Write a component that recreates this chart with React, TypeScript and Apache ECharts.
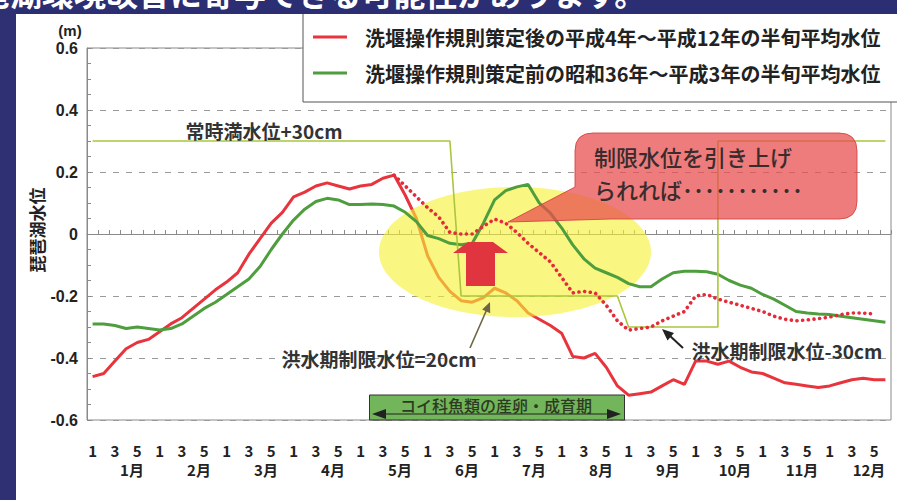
import { useEffect, useRef } from "react";
import * as echarts from "echarts";

const FONT = "Noto Sans CJK JP, Noto Sans, sans-serif";
const NUM_FONT = "Liberation Sans, Noto Sans, sans-serif";

// 半旬 (5-day periods): 6 per month, 72 per year
const months = ["1月", "2月", "3月", "4月", "5月", "6月", "7月", "8月", "9月", "10月", "11月", "12月"];
const halfPeriods = ["1", "2", "3", "4", "5", "6"];
const halfPeriodTickLabels = ["1", "", "3", "", "5", ""];
const categories = months.flatMap((m) => halfPeriods.map((h) => `${m}${h}`));

const yMin = -0.6;
const yMax = 0.6;
const yStep = 0.2;

const SERIES_AFTER = "洗堰操作規則策定後の平成4年～平成12年の半旬平均水位";
const SERIES_BEFORE = "洗堰操作規則策定前の昭和36年～平成3年の半旬平均水位";
const SERIES_RAISED = "制限水位引き上げ時";
const SERIES_LIMIT = "制限水位";

// 平成4年～平成12年 (after the rule)
const afterRuleLevels = [
  -0.46, -0.45, -0.41, -0.37, -0.35, -0.34,
  -0.315, -0.29, -0.27, -0.24, -0.21, -0.18,
  -0.155, -0.125, -0.065, -0.015, 0.035, 0.07,
  0.12, 0.135, 0.155, 0.165, 0.155, 0.145,
  0.155, 0.16, 0.18, 0.19, 0.125, 0.05,
  -0.07, -0.14, -0.185, -0.215, -0.22, -0.205,
  -0.175, -0.19, -0.215, -0.255, -0.275, -0.295,
  -0.32, -0.395, -0.4, -0.385, -0.43, -0.49,
  -0.52, -0.515, -0.51, -0.49, -0.47, -0.485,
  -0.41, -0.41, -0.42, -0.41, -0.43, -0.445,
  -0.45, -0.465, -0.48, -0.485, -0.49, -0.495,
  -0.49, -0.48, -0.47, -0.465, -0.47, -0.47,
];

// 昭和36年～平成3年 (before the rule)
const beforeRuleLevels = [
  -0.29, -0.29, -0.295, -0.305, -0.3, -0.305,
  -0.31, -0.305, -0.29, -0.265, -0.24, -0.22,
  -0.195, -0.17, -0.145, -0.105, -0.05, 0.0,
  0.045, 0.08, 0.105, 0.115, 0.11, 0.095,
  0.095, 0.097, 0.095, 0.09, 0.07, 0.04,
  -0.005, -0.015, -0.03, -0.035, -0.03, 0.035,
  0.11, 0.14, 0.152, 0.16, 0.1, 0.067,
  0.02, -0.035, -0.08, -0.11, -0.125, -0.14,
  -0.16, -0.17, -0.17, -0.145, -0.125, -0.12,
  -0.12, -0.122, -0.13, -0.15, -0.165, -0.175,
  -0.195, -0.21, -0.23, -0.25, -0.255, -0.258,
  -0.26, -0.265, -0.27, -0.275, -0.28, -0.285,
];

// expected level if the flood-season limit were raised
const raisedLimitLevels = [
  null, null, null, null, null, null,
  null, null, null, null, null, null,
  null, null, null, null, null, null,
  null, null, null, null, null, null,
  null, null, null, 0.19, 0.155, 0.12,
  0.085, 0.055, 0.005, 0.0, 0.0, 0.025,
  0.048, 0.035, 0.005, -0.03, -0.06, -0.09,
  -0.14, -0.19, -0.185, -0.19, -0.23, -0.28,
  -0.31, -0.305, -0.3, -0.28, -0.265, -0.25,
  -0.2, -0.195, -0.21, -0.22, -0.23, -0.24,
  -0.25, -0.265, -0.275, -0.28, -0.277, -0.273,
  -0.268, -0.26, -0.255, -0.255, -0.258, null,
];

// 常時満水位 +30cm / 洪水期制限水位 -20cm, -30cm  [half-period index, level]
const limitLevelSteps = [
  [0, 0.3], [32, 0.3], [33, -0.2], [47, -0.2],
  [48, -0.3], [56, -0.3], [56, 0.3], [71, 0.3],
];

const BUBBLE_PATH =
  "M18 0 H264 Q282 0 282 18 V68 Q282 86 264 86 H36 L-67 89 L0 54 V18 Q0 0 18 0 Z";

export default function App() {
  const ref = useRef<HTMLDivElement>(null);

  useEffect(() => {
    if (!ref.current) return;
    echarts.graphic.registerShape("calloutBubble", echarts.graphic.extendPath(BUBBLE_PATH, {}));
    const chart = echarts.init(ref.current, null, { renderer: "svg" });

    const labelText = { fontFamily: FONT, fontWeight: "bold" as const, color: "#222" };
    const numText = { fontFamily: NUM_FONT, fontWeight: "bold" as const, color: "#222" };
    const axisGray = "#8a8a8a";

    chart.setOption({
      animation: false,
      textStyle: { fontFamily: FONT },
      grid: {
        left: 87, right: 6, top: 48, bottom: 80,
        show: true, borderColor: axisGray, borderWidth: 1, backgroundColor: "transparent",
      },
      legend: {
        data: [SERIES_AFTER, SERIES_BEFORE],
        orient: "vertical",
        left: 303,
        top: 13,
        padding: [13, 60, 18, 10],
        itemGap: 14,
        icon: "rect",
        itemWidth: 34,
        itemHeight: 3,
        backgroundColor: "#fff",
        borderColor: "#555",
        borderWidth: 1,
        selectedMode: false,
        textStyle: { ...labelText, fontSize: 20, lineHeight: 22, padding: [0, 0, 0, 13] },
      },
      xAxis: [
        {
          type: "category",
          data: categories,
          boundaryGap: true,
          axisLine: { lineStyle: { color: axisGray } },
          axisTick: { show: true, inside: true, length: 4, interval: 0, lineStyle: { color: axisGray } },
          axisLabel: {
            ...labelText, fontSize: 15, lineHeight: 16, interval: 0, margin: 22,
            formatter: (_v: string, i: number) => halfPeriodTickLabels[i % 6],
          },
          splitLine: { show: false },
        },
        {
          type: "category",
          data: months,
          position: "bottom",
          boundaryGap: true,
          axisLine: { show: false },
          axisTick: { show: false },
          axisLabel: {
            ...labelText, fontSize: 15, lineHeight: 16, interval: 0, margin: 41, padding: [0, 0, 0, 23],
          },
          splitLine: { show: false },
        },
      ],
      yAxis: {
        type: "value",
        min: yMin,
        max: yMax,
        interval: yStep,
        name: "(m)",
        nameLocation: "end",
        nameGap: 10,
        nameTextStyle: { ...numText, fontSize: 15, lineHeight: 16, padding: [0, 34, 0, 0] },
        axisLine: { show: true, lineStyle: { color: axisGray } },
        axisTick: { show: true, inside: true, length: 4, lineStyle: { color: axisGray } },
        minorTick: { show: true, splitNumber: 4, length: 4, lineStyle: { color: axisGray } },
        splitLine: { lineStyle: { color: "#9a9a9a", type: [6, 7], width: 1 } },
        axisLabel: {
          ...numText, fontSize: 16, lineHeight: 17, margin: 9,
          formatter: (v: number) => (Math.abs(v) < 1e-9 ? "0" : v.toFixed(1)),
        },
      },
      series: [
        {
          name: SERIES_AFTER,
          type: "line",
          data: afterRuleLevels,
          symbol: "none",
          z: 2,
          silent: true,
          lineStyle: { color: "#e8343c", width: 3 },
          itemStyle: { color: "#e8343c" },
        },
        {
          name: SERIES_BEFORE,
          type: "line",
          data: beforeRuleLevels,
          symbol: "none",
          z: 4,
          silent: true,
          lineStyle: { color: "#4e9e3e", width: 3 },
          itemStyle: { color: "#4e9e3e" },
        },
        {
          name: SERIES_LIMIT,
          type: "line",
          data: limitLevelSteps,
          symbol: "none",
          z: 4,
          silent: true,
          lineStyle: { color: "#a9c63c", width: 1.6 },
        },
        {
          name: SERIES_RAISED,
          type: "line",
          data: raisedLimitLevels,
          symbol: "none",
          connectNulls: false,
          z: 5,
          silent: true,
          lineStyle: { color: "#e52a3a", width: 3.6, type: [0.1, 5.6], cap: "round" },
        },
      ],
      graphic: [
        // slide frame
        { type: "rect", z: 20, shape: { x: 0, y: 0, width: 897, height: 14 }, style: { fill: "#2b2e72" } },
        { type: "rect", z: 20, shape: { x: 0, y: 0, width: 16, height: 500 }, style: { fill: "#2f2f74" } },
        {
          type: "text", z: 21, x: -54, y: -8,
          style: {
            text: "琵琶湖環境改善に寄与できる可能性があります。",
            fill: "#ffffff", fontSize: 32, fontFamily: FONT, fontWeight: "bold",
            textVerticalAlign: "middle",
          },
        },
        // y-axis title
        {
          type: "text", z: 10, x: 36, y: 230, rotation: Math.PI / 2,
          style: {
            text: "琵琶湖水位", fill: "#222", fontSize: 17, fontFamily: FONT, fontWeight: "bold",
            textAlign: "center", textVerticalAlign: "middle",
          },
        },
        // highlighted flood-season area
        {
          type: "ellipse", z: 3, silent: true,
          shape: { cx: 515, cy: 252, rx: 136, ry: 65 },
          style: { fill: "rgba(246,240,52,0.62)" },
        },
        // up arrow
        {
          type: "polygon", z: 6,
          shape: {
            points: [[453, 253], [468, 242], [493, 242], [508, 253], [495, 253], [495, 286], [466, 286], [466, 253]],
          },
          style: { fill: "#e0343e" },
        },
        // callout
        {
          type: "calloutBubble", z: 10, x: 575, y: 133,
          style: { fill: "rgba(232,78,78,0.74)", stroke: "rgba(212,64,64,0.85)", lineWidth: 1 },
        },
        {
          type: "text", z: 11, x: 594, y: 172,
          style: {
            text: "制限水位を引き上げ\nられれば･･･････････",
            fill: "#3a2c2c", fontSize: 22, lineHeight: 33, fontFamily: FONT, fontWeight: 500,
            textVerticalAlign: "middle",
          },
        },
        // level annotations
        {
          type: "text", z: 10, x: 264, y: 130,
          style: {
            text: "常時満水位+30cm", fill: "#333", fontSize: 19, fontFamily: FONT, fontWeight: "bold",
            textAlign: "center", textVerticalAlign: "middle",
          },
        },
        {
          type: "text", z: 10, x: 379, y: 358,
          style: {
            text: "洪水期制限水位=20cm", fill: "#333", fontSize: 19, fontFamily: FONT, fontWeight: "bold",
            textAlign: "center", textVerticalAlign: "middle",
          },
        },
        {
          type: "text", z: 10, x: 787, y: 350,
          style: {
            text: "洪水期制限水位-30cm", fill: "#333", fontSize: 19, fontFamily: FONT, fontWeight: "bold",
            textAlign: "center", textVerticalAlign: "middle",
          },
        },
        { type: "line", z: 10, shape: { x1: 470, y1: 348, x2: 487, y2: 309 }, style: { stroke: "#6e6547", lineWidth: 1.6 } },
        {
          type: "polygon", z: 10,
          shape: { points: [[490, 302], [490.2, 313.2], [482.2, 309.6]] },
          style: { fill: "#6e6547" },
        },
        { type: "line", z: 10, shape: { x1: 683, y1: 348, x2: 669, y2: 335 }, style: { stroke: "#222", lineWidth: 2 } },
        {
          type: "polygon", z: 10,
          shape: { points: [[662, 329], [674, 333], [667.5, 340.5]] },
          style: { fill: "#222" },
        },
        // spawning period bar
        {
          type: "rect", z: 10,
          shape: { x: 369.5, y: 395, width: 255, height: 25 },
          style: { fill: "#73b55a", stroke: "#333", lineWidth: 1 },
        },
        {
          type: "text", z: 11, x: 496, y: 405,
          style: {
            text: "コイ科魚類の産卵・成育期", fill: "#2c3a22", fontSize: 16, fontFamily: FONT, fontWeight: 500,
            textAlign: "center", textVerticalAlign: "middle",
          },
        },
        { type: "line", z: 11, shape: { x1: 382, y1: 414, x2: 610, y2: 414 }, style: { stroke: "#222", lineWidth: 1.2 } },
        { type: "polygon", z: 11, shape: { points: [[372, 414], [386, 409], [386, 419]] }, style: { fill: "#222" } },
        { type: "polygon", z: 11, shape: { points: [[621, 414], [607, 409], [607, 419]] }, style: { fill: "#222" } },
      ],
    });

    return () => chart.dispose();
  }, []);

  return (
    <div
      ref={ref}
      style={{ position: "fixed", left: 0, top: 0, width: 897, height: 500, background: "#fff" }}
    />
  );
}
